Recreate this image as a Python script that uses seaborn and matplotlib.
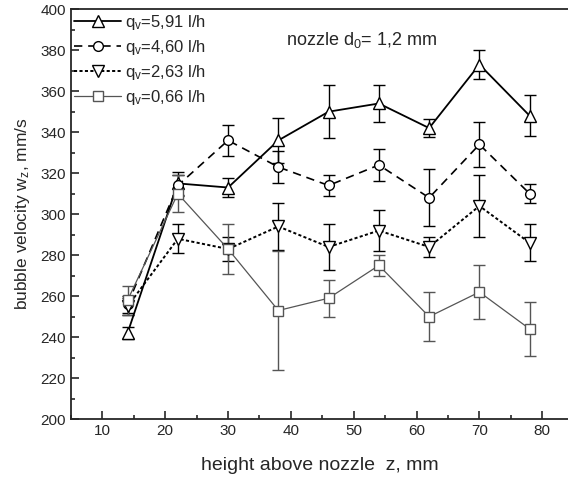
import matplotlib
matplotlib.use("Agg")
import matplotlib.pyplot as plt
import seaborn as sns
import numpy as np
import pandas as pd
from matplotlib.ticker import MultipleLocator

z = [14, 22, 30, 38, 46, 54, 62, 70, 78]

labels = ["q$_v$=5,91 l/h", "q$_v$=4,60 l/h", "q$_v$=2,63 l/h", "q$_v$=0,66 l/h"]

v591 = [242, 315, 313, 336, 350, 354, 342, 373, 348]
e591 = [3, 5.5, 4.5, 11, 13, 9, 4.5, 7, 10]

v460 = [256, 314, 336, 323, 314, 324, 308, 334, 310]
e460 = [4, 5, 7.5, 8, 5, 8, 14, 11, 4.6]

v263 = [255, 288, 283, 294, 284, 292, 284, 304, 286]
e263 = [4, 7, 6, 11.5, 11, 10, 5, 15, 9]

v066 = [258, 310, 283, 253, 259, 275, 250, 262, 244]
e066 = [7, 9, 12, 29, 9, 5, 12, 13, 13]

sns.set_style("ticks")
plt.rcParams['font.family'] = ['Liberation Sans', 'DejaVu Sans']
plt.rcParams['mathtext.fontset'] = 'custom'
plt.rcParams['mathtext.rm'] = 'Liberation Sans'
plt.rcParams['mathtext.it'] = 'Liberation Sans'
plt.rcParams['mathtext.default'] = 'regular'

fig = plt.figure(figsize=(5.68, 4.84), dpi=100)
ax = fig.add_axes([0.125, 0.134, 0.875, 0.847])

series = [
    (v591, e591, labels[0], '^', '-', 'black', 1.3, 8),
    (v460, e460, labels[1], 'o', (0, (5, 3.5)), 'black', 1.2, 7),
    (v263, e263, labels[2], 'v', (0, (1.6, 1.2)), 'black', 1.4, 8),
    (v066, e066, labels[3], 's', '-', '#555555', 0.9, 7),
]

for vals, errs, lab, mk, ls, col, lw, ms in series:
    df = pd.DataFrame({"z": z, "v": vals})
    ax.errorbar(df["z"], df["v"], yerr=errs, fmt='none', ecolor=col,
                elinewidth=1.0, capsize=4, capthick=1.0, zorder=2)
    sns.lineplot(data=df, x="z", y="v", ax=ax, color=col, linewidth=lw,
                 linestyle=ls, marker=mk, markersize=ms,
                 markerfacecolor='white', markeredgecolor=col,
                 markeredgewidth=1.0, label=lab, errorbar=None, zorder=3)

ax.set_xlim(5, 84.1)
ax.set_ylim(200, 400)
ax.xaxis.set_major_locator(MultipleLocator(10))
ax.xaxis.set_minor_locator(MultipleLocator(5))
ax.yaxis.set_major_locator(MultipleLocator(20))
ax.yaxis.set_minor_locator(MultipleLocator(10))
ax.tick_params(which='both', direction='in', labelsize=11, width=1.2)
ax.tick_params(which='major', length=6)
ax.tick_params(which='minor', length=3)
ax.set_xticks([10, 20, 30, 40, 50, 60, 70, 80])
for s in ['left', 'bottom', 'top']:
    ax.spines[s].set_linewidth(1.3)
ax.spines['right'].set_visible(False)

ax.set_xlabel("height above nozzle  z, mm", fontsize=14, labelpad=14)
ax.set_ylabel("bubble velocity w$_z$, mm/s", fontsize=12.5, labelpad=6)

ax.text(51.3, 385, "nozzle d$_0$= 1,2 mm", fontsize=13, ha='center', va='center')

leg = ax.legend(loc='upper left', frameon=False, fontsize=12, handlelength=2.8,
                labelspacing=0.36, borderaxespad=0.05, handletextpad=0.25,
                borderpad=0.15)

fig.savefig("out.png", dpi=100)
